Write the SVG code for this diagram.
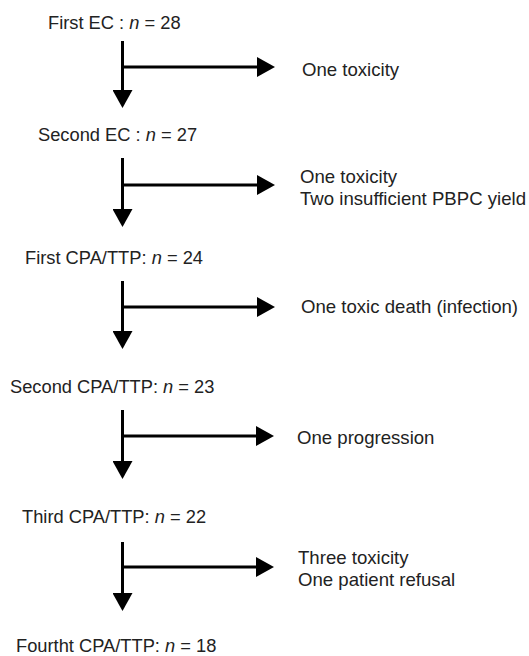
<svg xmlns="http://www.w3.org/2000/svg" width="529" height="656" viewBox="0 0 529 656">
<style>
text{font-family:"Liberation Sans",Arial,sans-serif;font-size:18.3px;fill:#222}
.r{font-size:18.6px}
.it{font-style:italic}
.ln{stroke:#000;stroke-width:3;fill:none;marker-end:url(#ah)}
</style>
<defs>
<marker id="ah" markerUnits="userSpaceOnUse" markerWidth="18" markerHeight="20" refX="0" refY="10" orient="auto" viewBox="0 0 18 20">
<path d="M0,0 L18,10 L0,20 z" fill="#000"/>
</marker>
</defs>
<rect width="529" height="656" fill="#fff"/>
<g id="n1"><text x="48" y="29">First EC : <tspan class="it">n</tspan> = 28</text></g>
<g id="x1"><text class="r" x="302" y="76">One toxicity</text></g>
<g id="n2"><text x="38" y="141">Second EC : <tspan class="it">n</tspan> = 27</text></g>
<g id="x2"><text class="r" x="300" y="183">One toxicity</text><text class="r" x="300" y="205">Two insufficient PBPC yield</text></g>
<g id="n3"><text x="25" y="264">First CPA/TTP: <tspan class="it">n</tspan> = 24</text></g>
<g id="x3"><text class="r" x="301" y="313">One toxic death (infection)</text></g>
<g id="n4"><text x="10" y="393">Second CPA/TTP: <tspan class="it">n</tspan> = 23</text></g>
<g id="x4"><text class="r" x="297" y="444">One progression</text></g>
<g id="n5"><text x="22" y="523">Third CPA/TTP: <tspan class="it">n</tspan> = 22</text></g>
<g id="x5"><text class="r" x="298" y="564">Three toxicity</text><text class="r" x="298" y="586">One patient refusal</text></g>
<g id="n6"><text x="16" y="652">Fourtht CPA/TTP: <tspan class="it">n</tspan> = 18</text></g>
<g id="connectors">
<path class="ln" d="M122.5,41 V90"/>
<path class="ln" d="M122.5,67 H257"/>
<path class="ln" d="M122.5,158 V209"/>
<path class="ln" d="M122.5,185 H257"/>
<path class="ln" d="M122.5,281 V331"/>
<path class="ln" d="M122.5,307 H257"/>
<path class="ln" d="M122.5,410 V461"/>
<path class="ln" d="M122.5,436 H256"/>
<path class="ln" d="M122.5,542 V593"/>
<path class="ln" d="M122.5,567 H256"/>
</g>
</svg>
